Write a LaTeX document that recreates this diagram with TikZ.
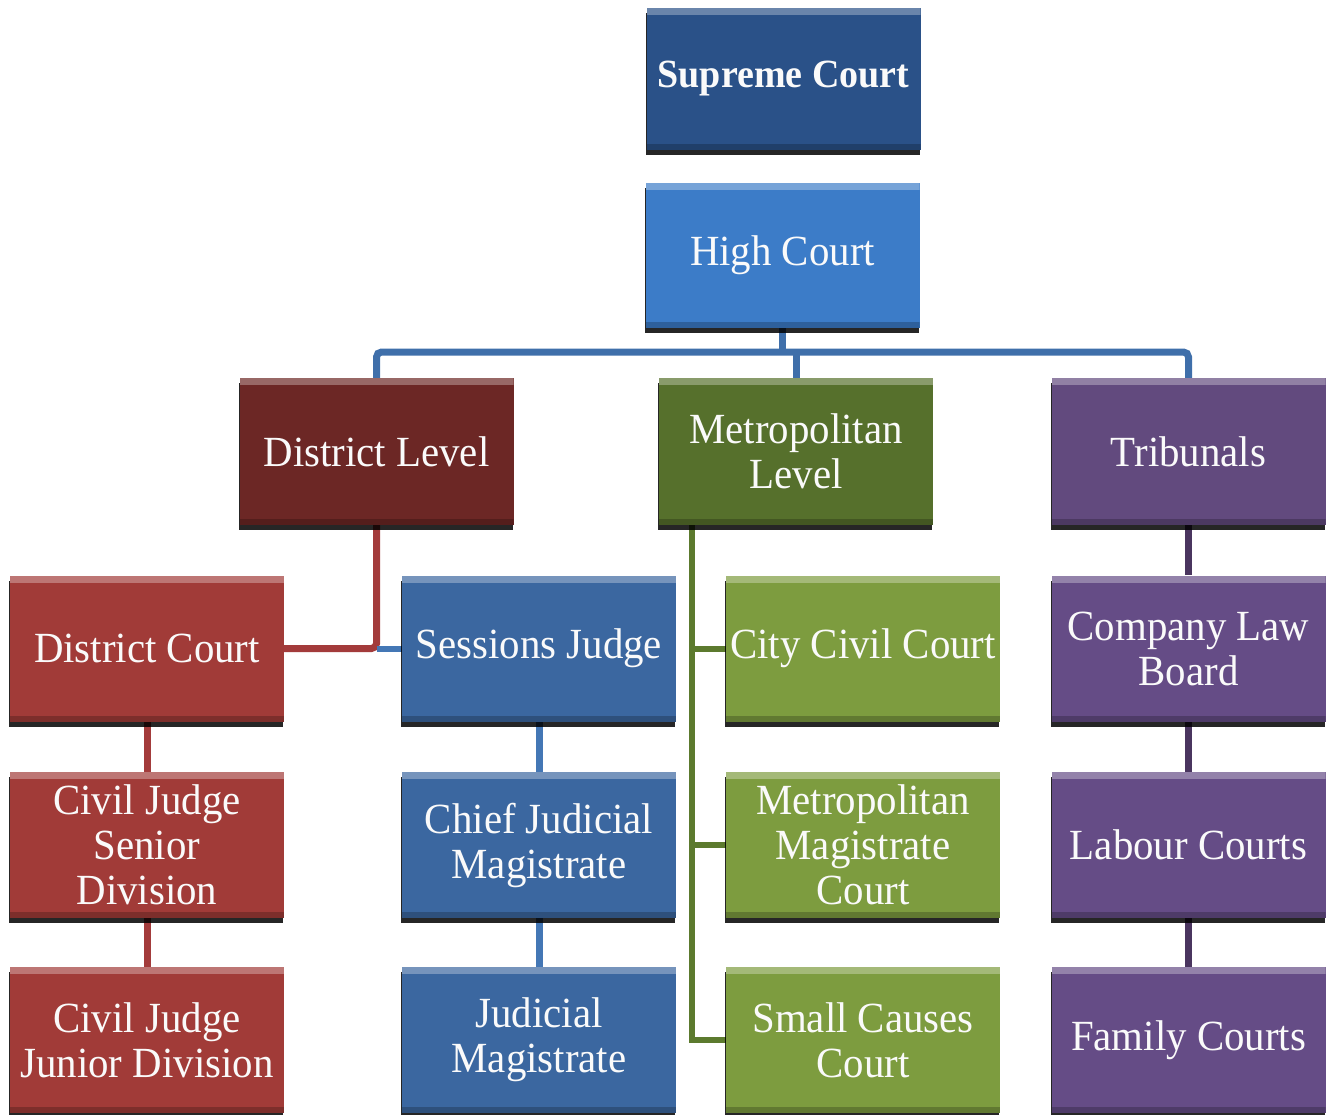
\documentclass[tikz,border=0pt]{standalone}
\usepackage{fontspec}
\newfontfamily\boxfont[FakeStretch=0.95]{Liberation Serif}
\usetikzlibrary{shadows,backgrounds}
\definecolor{cSup}{HTML}{2A5188}
\definecolor{cHigh}{HTML}{3C7CC8}
\definecolor{cDL}{HTML}{6C2725}
\definecolor{cML}{HTML}{56702C}
\definecolor{cTL}{HTML}{624A7E}
\definecolor{cRed}{HTML}{A13B38}
\definecolor{cBlue}{HTML}{3B67A0}
\definecolor{cGreen}{HTML}{7D9C3F}
\definecolor{cPurple}{HTML}{654C86}
\definecolor{lBus}{HTML}{3F6FAA}
\definecolor{lRed}{HTML}{A33B3B}
\definecolor{lBlue}{HTML}{4477B5}
\definecolor{lGreen}{HTML}{5C7A2E}
\definecolor{lPurple}{HTML}{4A355F}
\tikzset{
  box/.style={fill=#1, minimum width=274pt, minimum height=146pt, inner sep=0pt,
    align=center, text=white!96!gray,
    font=\boxfont\fontsize{43}{45}\selectfont,
    drop shadow={shadow xshift=-1pt, shadow yshift=-5pt, opacity=0.85, fill=black},
    path picture={
      \fill[white,opacity=.3] (path picture bounding box.north west) rectangle ([yshift=-7pt]path picture bounding box.north east);
      \fill[black,opacity=.22] (path picture bounding box.south west) rectangle ([yshift=6pt]path picture bounding box.south east);
    }},
  conn/.style={draw=#1, line width=7pt, rounded corners=5pt},
  thinconn/.style={draw=#1, line width=6pt}
}
\begin{document}
\begin{tikzpicture}[x=1pt,y=-1pt]
\useasboundingbox (0,0) rectangle (1328,1114);
% top
\node[box=cSup, minimum height=142pt, font=\boxfont\bfseries\fontsize{40}{45}\selectfont] (sup) at (783.5,79) {Supreme Court};
\node[box=cHigh, minimum height=145pt] (high) at (782.5,255.5) {High Court};
% level row
\node[box=cDL, minimum height=147pt] (dl) at (376.5,451.5) {District Level};
\node[box=cML, minimum height=147pt] (ml) at (796,451.5) {Metropolitan\\Level};
\node[box=cTL, minimum height=147pt] (tl) at (1188.5,451.5) {Tribunals};
% row 2
\node[box=cRed] (dc) at (147,648.5) {District Court};
\node[box=cBlue] (sj) at (539,648.5) {Sessions Judge};
\node[box=cGreen] (cc) at (863,648.5) {City Civil Court};
\node[box=cPurple] (cl) at (1188.5,648.5) {Company Law\\Board};
% row 3
\node[box=cRed] (cs) at (147,845) {Civil Judge\\Senior\\Division};
\node[box=cBlue] (cj) at (539,845) {Chief Judicial\\Magistrate};
\node[box=cGreen] (mm) at (863,845) {Metropolitan\\Magistrate\\Court};
\node[box=cPurple] (lc) at (1188.5,845) {Labour Courts};
% row 4
\node[box=cRed] (jd) at (147,1040) {Civil Judge\\Junior Division};
\node[box=cBlue] (jm) at (539,1040) {Judicial\\Magistrate};
\node[box=cGreen] (sc) at (863,1040) {Small Causes\\Court};
\node[box=cPurple] (fc) at (1188.5,1040) {Family Courts};
\begin{pgfonlayer}{background}
\coordinate (bus) at (783,352);
\draw[conn=lBus] (high.south) -- (high.south |- bus);
\draw[conn=lBus] (dl.north) -- (dl.north |- bus) -- (tl.north |- bus) -- (tl.north);
\draw[conn=lBus] (bus -| ml.north) -- (ml.north);
% district
\draw[conn=lRed] (dl.south) |- (dc.east);
\draw[thinconn=lBlue] (dl.south |- sj.west) -- (sj.west);
\draw[conn=lRed] (dc.south) -- (cs.north);
\draw[conn=lRed] (cs.south) -- (jd.north);
\draw[conn=lBlue] (sj.south) -- (cj.north);
\draw[conn=lBlue] (cj.south) -- (jm.north);
% metropolitan
\coordinate (mtl) at ([xshift=33pt]ml.south west);
\draw[thinconn=lGreen] (mtl) |- (sc.west);
\draw[thinconn=lGreen] (mtl |- cc.west) -- (cc.west);
\draw[thinconn=lGreen] (mtl |- mm.west) -- (mm.west);
% tribunals
\draw[conn=lPurple] (tl.south) -- (cl.north);
\draw[conn=lPurple] (cl.south) -- (lc.north);
\draw[conn=lPurple] (lc.south) -- (fc.north);
\end{pgfonlayer}
\end{tikzpicture}
\end{document}
